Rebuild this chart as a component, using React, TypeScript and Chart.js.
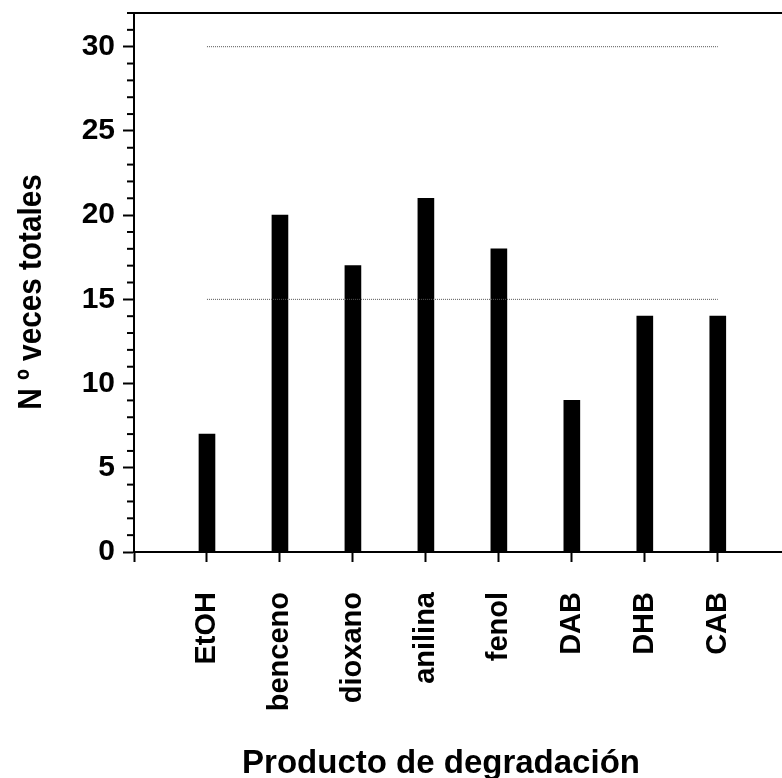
import React, { useEffect, useRef } from 'react';
import { Chart, registerables } from 'chart.js';

Chart.register(...registerables);

const categories = ['EtOH', 'benceno', 'dioxano', 'anilina', 'fenol', 'DAB', 'DHB', 'CAB'];
const counts = [7, 20, 17, 21, 18, 9, 14, 14];
const referenceLevels = [15, 30];
const yMajorTicks = [0, 5, 10, 15, 20, 25, 30];
const yMax = 32;
const xMax = 8.88;
const xTitle = 'Producto de degradación';
const yTitle = 'N º veces totales';

const FONT = '"Liberation Sans", Arial, Helvetica, sans-serif';

const decorPlugin = {
  id: 'decor',
  afterDraw(chart: any) {
    const { ctx, chartArea, scales } = chart;
    const y = scales.y;
    ctx.save();
    ctx.strokeStyle = '#000';
    ctx.lineWidth = 2;
    for (let v = 0; v <= yMax; v++) {
      if (v % 5 === 0) continue;
      const py = y.getPixelForValue(v);
      ctx.beginPath();
      ctx.moveTo(chartArea.left - 7, py);
      ctx.lineTo(chartArea.left, py);
      ctx.stroke();
    }
    ctx.beginPath();
    ctx.moveTo(chartArea.left - 2, chartArea.top);
    ctx.lineTo(chartArea.right, chartArea.top);
    ctx.stroke();

    ctx.fillStyle = '#000';
    ctx.textAlign = 'center';
    ctx.textBaseline = 'alphabetic';
    ctx.font = `bold 33px ${FONT}`;
    ctx.fillText(xTitle, 441, 773);

    ctx.save();
    ctx.translate(41, 292);
    ctx.rotate(-Math.PI / 2);
    ctx.scale(0.9, 1);
    ctx.font = `bold 33px ${FONT}`;
    ctx.fillText(yTitle, 0, 0);
    ctx.restore();

    ctx.restore();
  },
};

export default function App() {
  const canvasRef = useRef<HTMLCanvasElement | null>(null);

  useEffect(() => {
    const canvas = canvasRef.current;
    if (!canvas) return;
    const chart = new Chart(canvas, {
      type: 'bar',
      data: {
        datasets: [
          {
            type: 'bar',
            data: categories.map((_, i) => ({ x: i + 1, y: counts[i] })),
            backgroundColor: '#000',
            borderWidth: 0,
            barThickness: 16,
            order: 2,
          } as any,
          ...referenceLevels.map((lvl) => ({
            type: 'line',
            data: [
              { x: 1, y: lvl },
              { x: categories.length, y: lvl },
            ],
            borderColor: '#555',
            borderWidth: 1,
            borderDash: [1, 1],
            pointRadius: 0,
            fill: false,
            order: 1,
          })) as any,
        ],
      },
      options: {
        animation: false,
        responsive: false,
        maintainAspectRatio: false,
        layout: { padding: { top: 13, left: 0, right: 0, bottom: 0 } },
        plugins: {
          legend: { display: false },
          tooltip: { enabled: false },
        },
        scales: {
          x: {
            type: 'linear',
            position: 'bottom',
            offset: false,
            min: 0,
            max: xMax,
            afterBuildTicks: (s: any) => {
              s.ticks = Array.from({ length: categories.length + 1 }, (_, i) => ({ value: i }));
            },
            afterFit: (s: any) => {
              s.height = 226;
              s.paddingLeft = 0;
              s.paddingRight = 0;
            },
            grid: {
              offset: false,
              drawOnChartArea: false,
              drawTicks: true,
              tickLength: 10,
              tickWidth: 2,
              tickColor: '#000',
            },
            border: { display: true, color: '#000', width: 2 },
            ticks: {
              autoSkip: false,
              minRotation: 90,
              maxRotation: 90,
              padding: 30,
              color: '#000',
              font: { family: FONT, size: 29, weight: 'bold' },
              callback: (v: any) => categories[Number(v) - 1] ?? '',
            },
          },
          y: {
            type: 'linear',
            min: 0,
            max: yMax,
            afterBuildTicks: (s: any) => {
              s.ticks = yMajorTicks.map((v) => ({ value: v }));
            },
            afterFit: (s: any) => {
              s.width = 134;
              s.paddingTop = 0;
              s.paddingBottom = 0;
            },
            grid: {
              drawOnChartArea: false,
              drawTicks: true,
              tickLength: 11,
              tickWidth: 2,
              tickColor: '#000',
            },
            border: { display: true, color: '#000', width: 2 },
            ticks: {
              padding: 8,
              color: '#000',
              font: { family: FONT, size: 30, weight: 'bold' },
            },
          },
        },
      },
      plugins: [decorPlugin],
    });
    return () => chart.destroy();
  }, []);

  return (
    <div style={{ position: 'absolute', left: 0, top: 0, width: 782, height: 778, background: '#fff' }}>
      <canvas ref={canvasRef} width={782} height={778} style={{ display: 'block' }} />
    </div>
  );
}
